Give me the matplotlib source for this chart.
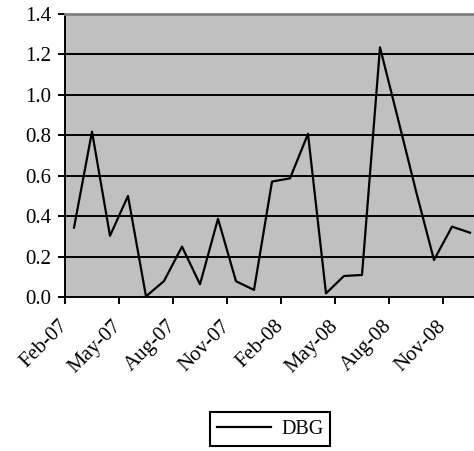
import numpy as np
import matplotlib
matplotlib.use('Agg')
import matplotlib.pyplot as plt
import matplotlib.transforms as mtrans

plt.rcParams['font.family'] = ['Liberation Serif', 'DejaVu Serif']

#-- monthly values, Feb-07 .. Dec-08
months = ['Feb-07', 'Mar-07', 'Apr-07', 'May-07', 'Jun-07', 'Jul-07', 'Aug-07', 'Sep-07',
          'Oct-07', 'Nov-07', 'Dec-07', 'Jan-08', 'Feb-08', 'Mar-08', 'Apr-08', 'May-08',
          'Jun-08', 'Jul-08', 'Aug-08', 'Sep-08', 'Oct-08', 'Nov-08', 'Dec-08']
dbg = [0.343, 0.818, 0.303, 0.50, 0.003, 0.079, 0.249, 0.063,
       0.387, 0.078, 0.035, 0.571, 0.587, 0.807, 0.018, 0.104,
       0.109, 1.235, 0.881, 0.524, 0.183, 0.348, 0.318]
tick_labels = months[::3]
yticks = [0.0, 0.2, 0.4, 0.6, 0.8, 1.0, 1.2, 1.4]

W, H = 474, 451
fig = plt.figure(figsize=(W/100., H/100.), dpi=100)
ax = fig.add_axes([65./W, (H-297.)/H, 414./W, 283./H])
ax.set_facecolor('#c0c0c0')

x = np.arange(len(dbg)) + 0.5
ax.plot(x, dbg, color='black', lw=1.6, label='DBG', zorder=3)

ax.set_xlim(0, len(dbg))
ax.set_ylim(0, 1.4)
ax.set_yticks(yticks)
ax.set_yticklabels(['%.1f' % v for v in yticks], fontsize=15)
ax.set_xticks(np.arange(0, len(dbg), 3))
ax.set_xticklabels(tick_labels, rotation=45, ha='right', va='center',
                   rotation_mode='anchor', fontsize=15)
shift = mtrans.ScaledTranslation(-4/100., -5/100., fig.dpi_scale_trans)
for lab in ax.get_xticklabels():
    lab.set_transform(lab.get_transform() + shift)

for v in yticks[1:-1]:
    ax.axhline(v, color='black', lw=1.4, zorder=1)

ax.spines['right'].set_visible(False)
ax.spines['top'].set_color('#808080')
ax.spines['top'].set_linewidth(2)
ax.spines['left'].set_linewidth(1.4)
ax.spines['bottom'].set_linewidth(1.4)
ax.tick_params(direction='out', length=5, width=1.4, color='black')
ax.tick_params(axis='y', pad=5)
ax.tick_params(axis='x', pad=14)

leg = fig.legend(loc='center', bbox_to_anchor=(270./W, 22./H), fontsize=14.5,
                 fancybox=False, framealpha=1, edgecolor='black', handlelength=2.7,
                 handletextpad=0.5, borderpad=0.35)
leg.get_frame().set_linewidth(1.5)

plt.savefig('out.png', dpi=100)
